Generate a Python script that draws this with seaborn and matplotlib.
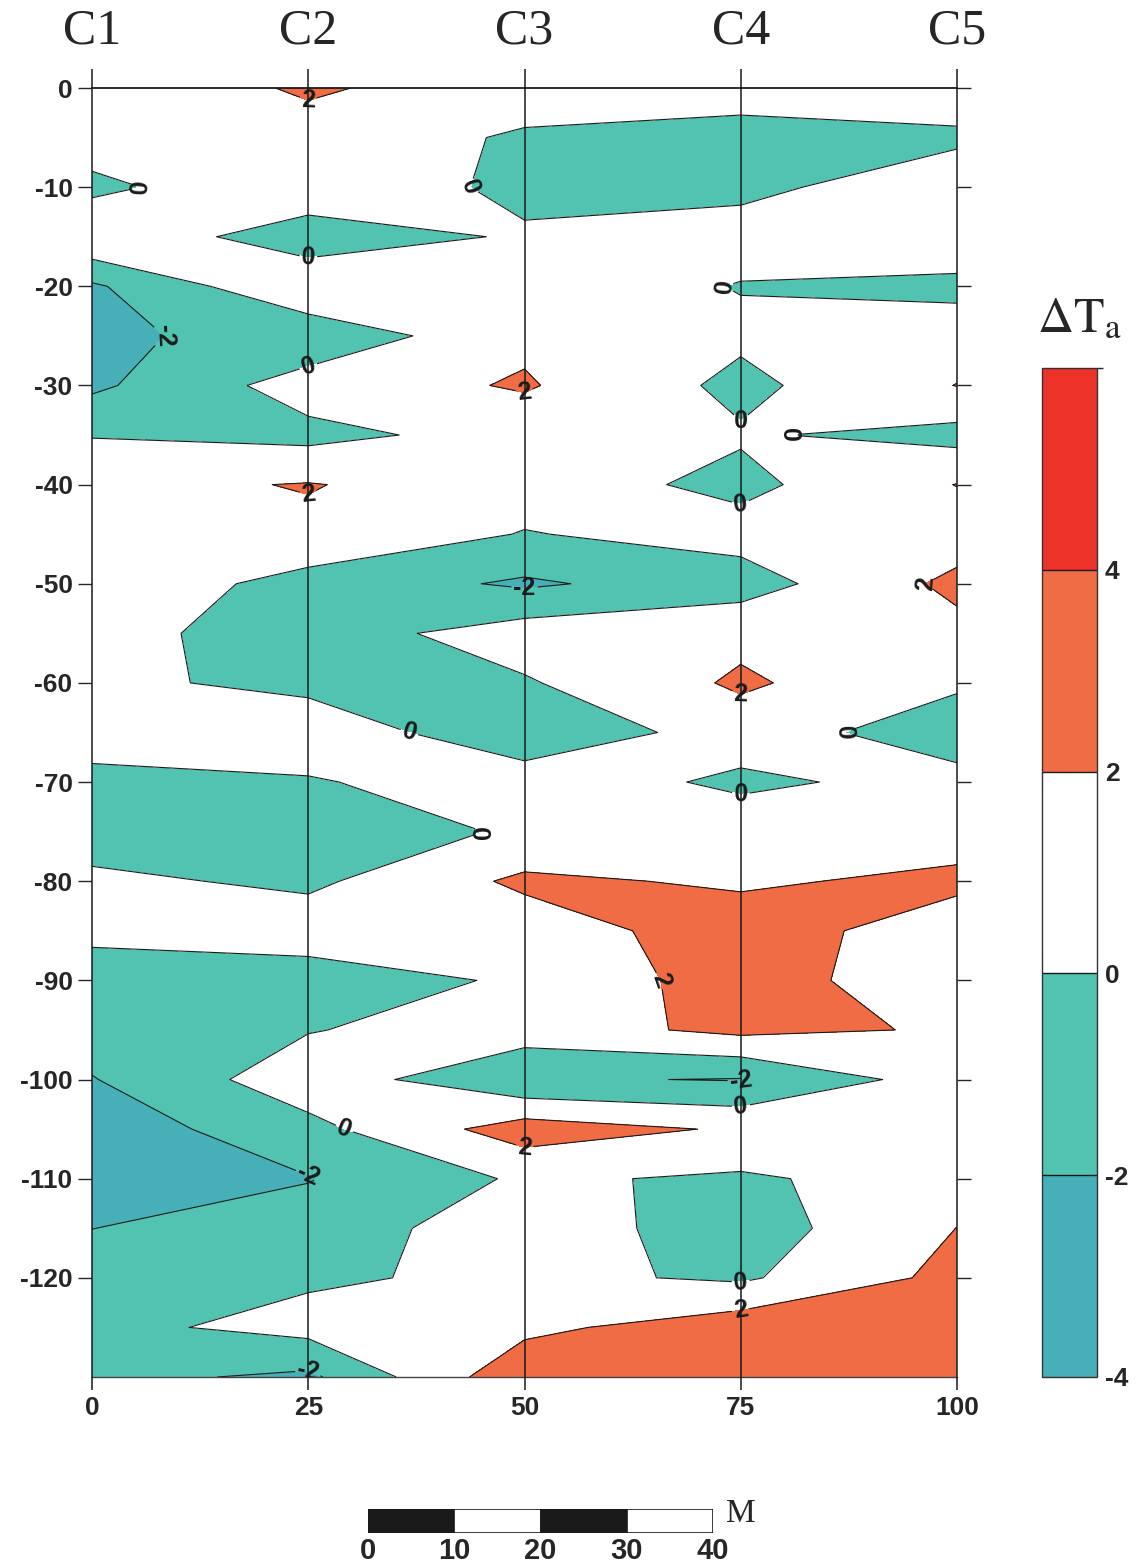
import numpy as np
import matplotlib
matplotlib.use("Agg")
import matplotlib.pyplot as plt
import seaborn as sns
from matplotlib.colors import ListedColormap, BoundaryNorm

# profile positions along the line (m) and sampling depths (m)
profiles = [0, 25, 50, 75, 100]
profile_names = ["C1", "C2", "C3", "C4", "C5"]
depths = list(range(0, 131, 5))

# temperature anomaly dTa read along each profile, every 5 m from the top
c1 = [0.88, 1.1, -0.52, 1.9, -2.3, -2.25, -2.4, -0.1, 1.5, 1.5, 1.6, 0.7, 0.5, 0.5,
      -0.3, -1.0, 0.43, 0.5, -1.0, -1.0, -2.1, -3.2, -2.7, -2.02, -1.0, -0.57, -1.45]
c2 = [2.2, 1.4, 1.8, -1.4, 1.9, -1.5, 0.95, -0.58, 2.1, 1.6, -0.8, -1.0, -0.6, 1.4,
      -0.2, -1.2, -0.4, 1.14, -1.06, -0.1, 1.2, -0.6, -2.1, -1.0, -0.3, 0.7, -2.4]
c3 = [1.18, -0.3, -0.6, 0.3, 1.0, 1.6, 2.2, 0.8, 0.96, -0.1, -2.3, 0.99, -0.2, -1.6,
      1.2, 0.28, 2.4, 0.9, 0.3, 1.0, -1.8, 3.0, 0.3, 1.08, 0.47, 1.5, 3.5]
c4 = [1.2, -1.0, -0.4, 0.7, -0.08, 0.36, -0.5, 0.2, -0.5, 0.75, -0.9, 1.5, 2.3, 1.0,
      -0.4, 1.2, 1.7, 3.1, 3.0, 2.5, -2.1, 1.75, -0.3, -1.0, -0.3, 3.2, 3.5]
c5 = [1.0, -0.3, 1.0, 1.42, -0.5, 0.97, 2.05, -0.7, 2.05, 1.0, 2.5, 1.4, 0.3, -1.1,
      0.7, 1.0, 2.5, 0.8, 0.6, 1.8, 1.1, 1.0, 1.0, 2.02, 2.6, 3.0, 3.2]

# colour classes
levels = [-4, -2, 0, 2, 4, 6]
line_levels = [-2, 0, 2]
band_colors = ["#47afb8", "#52c3b1", "#ffffff", "#ef6c45", "#ec3229"]
cbar_ticks = [-4, -2, 0, 2, 4]
depth_ticks = list(range(0, -121, -10))
scale_ticks = [0, 10, 20, 30, 40]

sns.set_theme(style="white")
plt.rcParams["font.family"] = ["Liberation Sans", "DejaVu Sans"]
plt.rcParams["mathtext.fontset"] = "stix"
plt.rcParams["axes.unicode_minus"] = False

Z = np.column_stack([c1, c2, c3, c4, c5])
X, Y = np.meshgrid(profiles, -np.array(depths))

fig = plt.figure(figsize=(11.46, 15.66), dpi=100)
ax = fig.add_axes([0.0803, 0.1207, 0.7548, 0.8231])

cmap = ListedColormap(band_colors)
norm = BoundaryNorm(levels, cmap.N)
cf = ax.contourf(X, Y, Z, levels=levels, cmap=cmap, norm=norm)
cs = ax.contour(X, Y, Z, levels=line_levels, colors="k", linewidths=0.8,
                linestyles="solid")
for t in ax.clabel(cs, fmt="%d", fontsize=18, inline=True, inline_spacing=2):
    t.set_fontweight("bold")

# profile lines, sticking out a little above and below the section
ax.vlines(profiles, -131.3, 1.9, colors="k", lw=1.1, clip_on=False, zorder=4)
for x, name in zip(profiles, profile_names):
    ax.text(x, 3.4, name, ha="center", va="bottom", fontsize=36,
            family="Liberation Serif")

ax.set_xlim(0, 100)
ax.set_ylim(-130, 0)
ax.set_yticks(depth_ticks)
ax.set_xticks(profiles)
ax.tick_params(axis="y", left=True, right=True, direction="out", length=10,
               width=1, labelsize=19, pad=4)
ax.tick_params(axis="x", bottom=True, length=0, labelsize=19, pad=14)
for lab in ax.get_xticklabels() + ax.get_yticklabels():
    lab.set_fontweight("bold")
for side in ["left", "right"]:
    ax.spines[side].set_visible(False)
ax.spines["top"].set_color("k")
ax.spines["top"].set_linewidth(1.3)
ax.spines["bottom"].set_color("#444444")
ax.spines["bottom"].set_linewidth(1.0)

# colour bar
cax = fig.add_axes([0.909, 0.1207, 0.048, 0.6443])
cb = fig.colorbar(cf, cax=cax, ticks=cbar_ticks)
cb.outline.set_linewidth(1.0)
cb.outline.set_edgecolor("#333333")
for lv in levels[1:-1]:
    cax.axhline(lv, color="k", lw=1.0)
cax.tick_params(length=0, labelsize=19, pad=6)
for lab in cax.get_yticklabels():
    lab.set_fontweight("bold")
fig.text(0.905, 0.782, r"$\Delta\mathrm{T}_{\mathrm{a}}$", fontsize=36,
         ha="left", va="bottom")

# scale bar (metres)
sax = fig.add_axes([368 / 1146, 1 - 1533 / 1566, 345 / 1146, 24 / 1566])
for i, left in enumerate(scale_ticks[:-1]):
    sax.barh(0, scale_ticks[i + 1] - left, left=left, height=1,
             color="k" if i % 2 == 0 else "w", edgecolor="k", lw=1.2)
sax.set_xlim(0, 40)
sax.set_ylim(-0.5, 0.5)
sax.set_yticks([])
sax.set_xticks(scale_ticks)
sax.tick_params(axis="x", length=0, labelsize=21, pad=3)
for lab in sax.get_xticklabels():
    lab.set_fontweight("bold")
for s in sax.spines.values():
    s.set_visible(False)
sax.text(41.5, 0.3, "M", fontsize=24, family="Liberation Serif",
         ha="left", va="center")

fig.savefig("out.png", dpi=100)
